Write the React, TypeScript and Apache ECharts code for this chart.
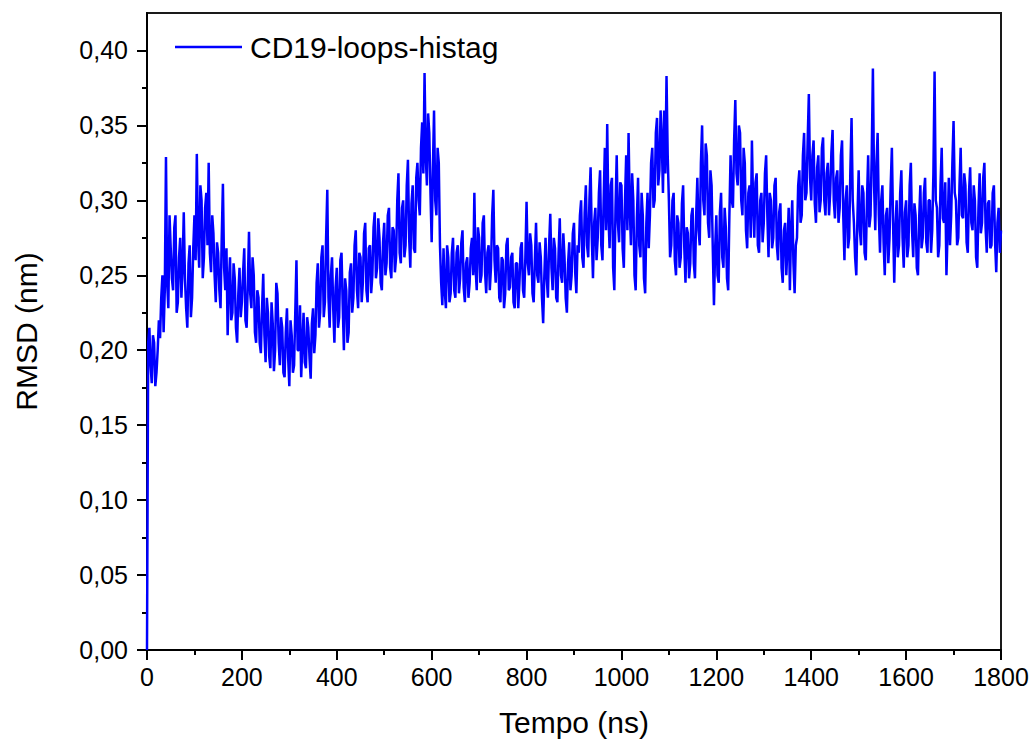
import React, { useEffect, useRef } from "react";
import * as echarts from "echarts";

// Time step between samples (ns)
const timeStep = 2.5;

// RMSD values (nm), one every 2.5 ns from 0 to 1800 ns (each row = 50 ns)
const rmsd: number[] = [
  0.000, 0.205, 0.215, 0.190, 0.178, 0.210, 0.205, 0.176, 0.185, 0.200, 0.220, 0.208, 0.235, 0.250, 0.212, 0.240, 0.329, 0.245, 0.228, 0.290, // 0
  0.268, 0.248, 0.240, 0.282, 0.290, 0.225, 0.232, 0.262, 0.275, 0.235, 0.255, 0.292, 0.248, 0.228, 0.215, 0.258, 0.270, 0.222, 0.235, 0.268, // 50
  0.290, 0.260, 0.331, 0.275, 0.255, 0.310, 0.300, 0.248, 0.262, 0.295, 0.305, 0.270, 0.325, 0.265, 0.252, 0.290, 0.278, 0.250, 0.232, 0.272, // 100
  0.265, 0.240, 0.228, 0.275, 0.311, 0.255, 0.240, 0.268, 0.210, 0.245, 0.262, 0.220, 0.225, 0.258, 0.248, 0.215, 0.205, 0.238, 0.255, 0.222, // 150
  0.232, 0.252, 0.268, 0.220, 0.215, 0.245, 0.279, 0.238, 0.228, 0.262, 0.250, 0.212, 0.205, 0.240, 0.235, 0.205, 0.198, 0.228, 0.251, 0.210, // 200
  0.192, 0.235, 0.225, 0.196, 0.188, 0.232, 0.218, 0.186, 0.200, 0.245, 0.238, 0.205, 0.190, 0.222, 0.215, 0.185, 0.182, 0.212, 0.228, 0.195, // 250
  0.176, 0.220, 0.210, 0.185, 0.190, 0.225, 0.260, 0.200, 0.200, 0.230, 0.182, 0.205, 0.225, 0.192, 0.188, 0.222, 0.215, 0.195, 0.181, 0.218, // 300
  0.228, 0.198, 0.210, 0.245, 0.258, 0.215, 0.225, 0.262, 0.270, 0.222, 0.232, 0.275, 0.307, 0.235, 0.215, 0.250, 0.262, 0.228, 0.205, 0.242, // 350
  0.255, 0.215, 0.222, 0.260, 0.265, 0.230, 0.200, 0.248, 0.240, 0.205, 0.212, 0.252, 0.258, 0.225, 0.235, 0.270, 0.280, 0.240, 0.228, 0.265, // 400
  0.262, 0.232, 0.245, 0.278, 0.285, 0.240, 0.232, 0.268, 0.270, 0.238, 0.250, 0.282, 0.292, 0.248, 0.255, 0.288, 0.275, 0.245, 0.240, 0.272, // 450
  0.285, 0.250, 0.258, 0.290, 0.295, 0.255, 0.248, 0.282, 0.280, 0.252, 0.262, 0.300, 0.318, 0.265, 0.258, 0.295, 0.300, 0.262, 0.270, 0.310, // 500
  0.327, 0.275, 0.255, 0.298, 0.310, 0.268, 0.265, 0.315, 0.325, 0.300, 0.290, 0.335, 0.352, 0.318, 0.385, 0.330, 0.310, 0.358, 0.345, 0.305, // 550
  0.272, 0.320, 0.360, 0.300, 0.290, 0.335, 0.325, 0.270, 0.245, 0.230, 0.268, 0.240, 0.228, 0.270, 0.262, 0.232, 0.238, 0.265, 0.275, 0.240, // 600
  0.235, 0.265, 0.270, 0.238, 0.248, 0.272, 0.280, 0.242, 0.232, 0.258, 0.262, 0.235, 0.245, 0.268, 0.275, 0.250, 0.305, 0.255, 0.240, 0.282, // 650
  0.275, 0.245, 0.250, 0.285, 0.290, 0.252, 0.238, 0.265, 0.270, 0.240, 0.255, 0.290, 0.307, 0.260, 0.245, 0.270, 0.268, 0.235, 0.232, 0.262, // 700
  0.260, 0.228, 0.238, 0.270, 0.275, 0.240, 0.242, 0.262, 0.265, 0.232, 0.228, 0.258, 0.258, 0.228, 0.245, 0.268, 0.272, 0.240, 0.235, 0.262, // 750
  0.299, 0.258, 0.250, 0.278, 0.270, 0.238, 0.232, 0.260, 0.285, 0.250, 0.245, 0.272, 0.262, 0.235, 0.218, 0.250, 0.275, 0.248, 0.235, 0.270, // 800
  0.291, 0.255, 0.240, 0.275, 0.268, 0.235, 0.232, 0.265, 0.288, 0.250, 0.245, 0.278, 0.262, 0.235, 0.225, 0.258, 0.272, 0.240, 0.250, 0.278, // 850
  0.285, 0.252, 0.238, 0.270, 0.265, 0.290, 0.300, 0.262, 0.255, 0.292, 0.310, 0.270, 0.262, 0.300, 0.322, 0.275, 0.248, 0.285, 0.295, 0.260, // 900
  0.275, 0.305, 0.320, 0.270, 0.260, 0.300, 0.335, 0.280, 0.351, 0.290, 0.268, 0.310, 0.315, 0.255, 0.240, 0.295, 0.330, 0.285, 0.272, 0.312, // 950
  0.310, 0.268, 0.255, 0.300, 0.330, 0.280, 0.345, 0.295, 0.270, 0.318, 0.300, 0.250, 0.240, 0.288, 0.315, 0.270, 0.262, 0.305, 0.290, 0.248, // 1000
  0.238, 0.285, 0.305, 0.268, 0.290, 0.325, 0.335, 0.295, 0.300, 0.345, 0.355, 0.310, 0.320, 0.360, 0.340, 0.305, 0.360, 0.318, 0.383, 0.330, // 1050
  0.300, 0.262, 0.270, 0.300, 0.305, 0.260, 0.250, 0.290, 0.285, 0.255, 0.262, 0.298, 0.310, 0.268, 0.245, 0.282, 0.278, 0.248, 0.258, 0.290, // 1100
  0.295, 0.258, 0.248, 0.290, 0.315, 0.280, 0.270, 0.325, 0.350, 0.300, 0.290, 0.338, 0.330, 0.285, 0.275, 0.320, 0.310, 0.268, 0.230, 0.268, // 1150
  0.290, 0.250, 0.245, 0.292, 0.305, 0.262, 0.255, 0.295, 0.282, 0.248, 0.240, 0.290, 0.330, 0.300, 0.295, 0.340, 0.367, 0.318, 0.310, 0.350, // 1200
  0.345, 0.300, 0.290, 0.335, 0.325, 0.280, 0.268, 0.305, 0.310, 0.275, 0.340, 0.298, 0.275, 0.312, 0.318, 0.270, 0.265, 0.300, 0.305, 0.272, // 1250
  0.285, 0.318, 0.330, 0.290, 0.262, 0.305, 0.300, 0.268, 0.275, 0.310, 0.315, 0.270, 0.260, 0.292, 0.298, 0.255, 0.245, 0.280, 0.285, 0.250, // 1300
  0.270, 0.295, 0.240, 0.280, 0.300, 0.258, 0.238, 0.270, 0.275, 0.310, 0.320, 0.285, 0.290, 0.330, 0.345, 0.300, 0.305, 0.340, 0.371, 0.315, // 1350
  0.300, 0.330, 0.340, 0.298, 0.285, 0.322, 0.330, 0.292, 0.300, 0.335, 0.342, 0.300, 0.290, 0.318, 0.325, 0.290, 0.305, 0.332, 0.347, 0.300, // 1400
  0.288, 0.315, 0.320, 0.285, 0.295, 0.330, 0.340, 0.290, 0.260, 0.300, 0.310, 0.268, 0.275, 0.320, 0.355, 0.300, 0.285, 0.262, 0.250, 0.290, // 1450
  0.320, 0.280, 0.270, 0.310, 0.305, 0.265, 0.260, 0.300, 0.330, 0.282, 0.290, 0.330, 0.388, 0.310, 0.280, 0.325, 0.345, 0.290, 0.265, 0.300, // 1500
  0.310, 0.272, 0.250, 0.290, 0.295, 0.258, 0.275, 0.310, 0.335, 0.285, 0.245, 0.282, 0.300, 0.262, 0.270, 0.305, 0.320, 0.275, 0.255, 0.292, // 1550
  0.300, 0.262, 0.270, 0.310, 0.325, 0.280, 0.262, 0.298, 0.290, 0.255, 0.250, 0.288, 0.310, 0.268, 0.275, 0.305, 0.315, 0.272, 0.265, 0.300, // 1600
  0.300, 0.265, 0.280, 0.318, 0.386, 0.300, 0.295, 0.262, 0.270, 0.310, 0.335, 0.288, 0.285, 0.312, 0.250, 0.280, 0.315, 0.270, 0.290, 0.325, // 1650
  0.353, 0.305, 0.300, 0.270, 0.275, 0.310, 0.335, 0.290, 0.288, 0.318, 0.310, 0.272, 0.265, 0.305, 0.322, 0.285, 0.280, 0.310, 0.300, 0.262, // 1700
  0.255, 0.295, 0.318, 0.278, 0.285, 0.315, 0.325, 0.282, 0.265, 0.298, 0.300, 0.268, 0.270, 0.305, 0.310, 0.272, 0.252, 0.285, 0.295, 0.265, // 1750
  0.280, // 1800
];

const seriesName = "CD19-loops-histag";
const yMajorTicks = [0, 0.05, 0.1, 0.15, 0.2, 0.25, 0.3, 0.35, 0.4];
const yMinorTicks = [0.025, 0.075, 0.125, 0.175, 0.225, 0.275, 0.325, 0.375];
const xTitle = "Tempo (ns)";
const yTitle = "RMSD (nm)";

const FONT = "'Liberation Sans', Arial, Helvetica, sans-serif";

export default function App() {
  const ref = useRef<HTMLDivElement>(null);

  useEffect(() => {
    if (!ref.current) return;
    const chart = echarts.init(ref.current, undefined, { renderer: "svg" });
    const data = rmsd.map((v, i) => [i * timeStep, v]);
    const black = "#000";

    chart.setOption({
      animation: false,
      backgroundColor: "#fff",
      textStyle: { fontFamily: FONT },
      grid: {
        left: 147,
        right: 29,
        top: 13,
        bottom: 94,
        show: true,
        borderColor: "#1a1a1a",
        borderWidth: 2,
        backgroundColor: "transparent",
        outerBoundsMode: "none",
        containLabel: false,
      },
      legend: {
        show: true,
        left: 175,
        top: 30,
        padding: 0,
        icon: "rect",
        itemWidth: 67,
        itemHeight: 2.5,
        data: [seriesName],
        textStyle: {
          fontFamily: FONT,
          fontSize: 30,
          color: black,
          lineHeight: 34,
          padding: [0, 0, 0, 3],
        },
      },
      xAxis: [
        {
          type: "value",
          min: 0,
          max: 1800,
          interval: 200,
          name: xTitle,
          nameLocation: "middle",
          nameGap: 57,
          nameTextStyle: { fontFamily: FONT, fontSize: 30, color: black },
          axisLine: { show: true, onZero: false, lineStyle: { color: black, width: 2 } },
          axisTick: { show: true, length: 10, lineStyle: { color: black, width: 2 } },
          minorTick: { show: true, splitNumber: 2, length: 5, lineStyle: { color: black, width: 2 } },
          axisLabel: {
            fontFamily: FONT,
            fontSize: 25,
            color: black,
            margin: 14,
            formatter: (v: number) => String(v),
          },
          splitLine: { show: false },
          minorSplitLine: { show: false },
        },
      ],
      yAxis: [
        {
          type: "value",
          min: 0,
          max: 0.425,
          interval: 0.05,
          name: yTitle,
          nameLocation: "middle",
          nameGap: 106,
          nameTextStyle: { fontFamily: FONT, fontSize: 30, color: black },
          axisLine: { show: true, onZero: false, lineStyle: { color: black, width: 2 } },
          axisTick: {
            show: true,
            length: 10,
            lineStyle: { color: black, width: 2 },
            customValues: yMajorTicks,
          },
          axisLabel: {
            fontFamily: FONT,
            fontSize: 25,
            color: black,
            margin: 19,
            customValues: yMajorTicks,
            formatter: (v: number) => (v > 0.41 ? "" : v.toFixed(2).replace(".", ",")),
          },
          splitLine: { show: false },
        },
        {
          type: "value",
          min: 0,
          max: 0.425,
          interval: 0.025,
          position: "left",
          axisLine: { show: false },
          axisTick: {
            show: true,
            length: 5,
            lineStyle: { color: black, width: 2 },
            customValues: yMinorTicks,
          },
          axisLabel: { show: false },
          splitLine: { show: false },
        },
      ],
      series: [
        {
          name: seriesName,
          type: "line",
          xAxisIndex: 0,
          yAxisIndex: 0,
          data,
          showSymbol: false,
          symbol: "none",
          color: "#0000ff",
          lineStyle: { color: "#0000ff", width: 2.5 },
        },
      ],
    });

    return () => chart.dispose();
  }, []);

  return (
    <div
      ref={ref}
      style={{ position: "fixed", left: 0, top: 0, width: 1030, height: 744, background: "#fff" }}
    />
  );
}
